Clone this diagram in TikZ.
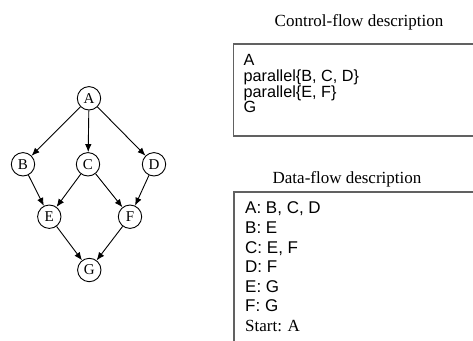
\documentclass[tikz,border=0pt]{standalone}
\usepackage{fontspec}
\setmainfont{Liberation Serif}
\setsansfont{Liberation Sans}
\usetikzlibrary{arrows.meta}
\newcommand\cftight{\setlength{\lineskiplimit}{-50pt}}

\begin{document}
\begin{tikzpicture}[
  x=1pt, y=-1pt,
  >=Latex,
  task/.style={
    draw, circle, line width=0.9pt, inner sep=0pt, minimum size=23.4pt,
    font=\rmfamily\fontsize{15}{17}\selectfont
  },
  dep/.style={-{Latex[length=8pt,width=6.5pt]}, line width=0.9pt},
  boxline/.style={draw=black!62, line width=1.3pt},
  title/.style={anchor=base, font=\rmfamily\fontsize{17}{19}\selectfont},
  listing/.style={anchor=north west, inner sep=0pt, align=left}
]
\useasboundingbox (0,0) rectangle (473,340);

% Task graph
\node[task] (A) at (89,98.3) {A};
\node[task] (B) at (23,164.3) {B};
\node[task] (C) at (88,164.3) {C};
\node[task] (D) at (154,164.3) {D};
\node[task] (E) at (49.3,216.7) {E};
\node[task] (F) at (130,216.7) {F};
\node[task] (G) at (89.3,270) {G};

\draw[dep] (A) -- (B);
\draw[dep] (A) -- (C);
\draw[dep] (A) -- (D);
\draw[dep] (B) -- (E);
\draw[dep] (C) -- (E);
\draw[dep] (C) -- (F);
\draw[dep] (D) -- (F);
\draw[dep] (E) -- (G);
\draw[dep] (F) -- (G);

% Control-flow box (runs off the right edge)
\node[title] (cftitle) at (359,26.7) {Control-flow description};
\coordinate (cfTR) at (474,44);
\coordinate (cfTL) at (233.3,44);
\coordinate (cfBL) at (233.3,136);
\coordinate (cfBR) at (474,136);
\draw[boxline] (cfTR) -- (cfTL) -- (cfBL) -- (cfBR);
\node[listing, font=\sffamily\fontsize{16.2}{15.8}\selectfont\cftight] (cftext) at (243.5,54.1)
  {A\\parallel\{B, C, D\}\\parallel\{E, F\}\\G};

% Data-flow box (runs off the right and bottom edges)
\node[title] (dftitle) at (347,183) {Data-flow description};
\coordinate (dfTR) at (474,192);
\coordinate (dfTL) at (234,192);
\coordinate (dfBL) at (234,341);
\draw[boxline] (dfTR) -- (dfTL) -- (dfBL);
\node[listing, font=\sffamily\fontsize{17}{19.6}\selectfont] (dftext) at (245,201.8)
  {A: B, C, D\\B: E\\C: E, F\\D: F\\E: G\\F: G\\{\rmfamily Start: A}};

\end{tikzpicture}
\end{document}
